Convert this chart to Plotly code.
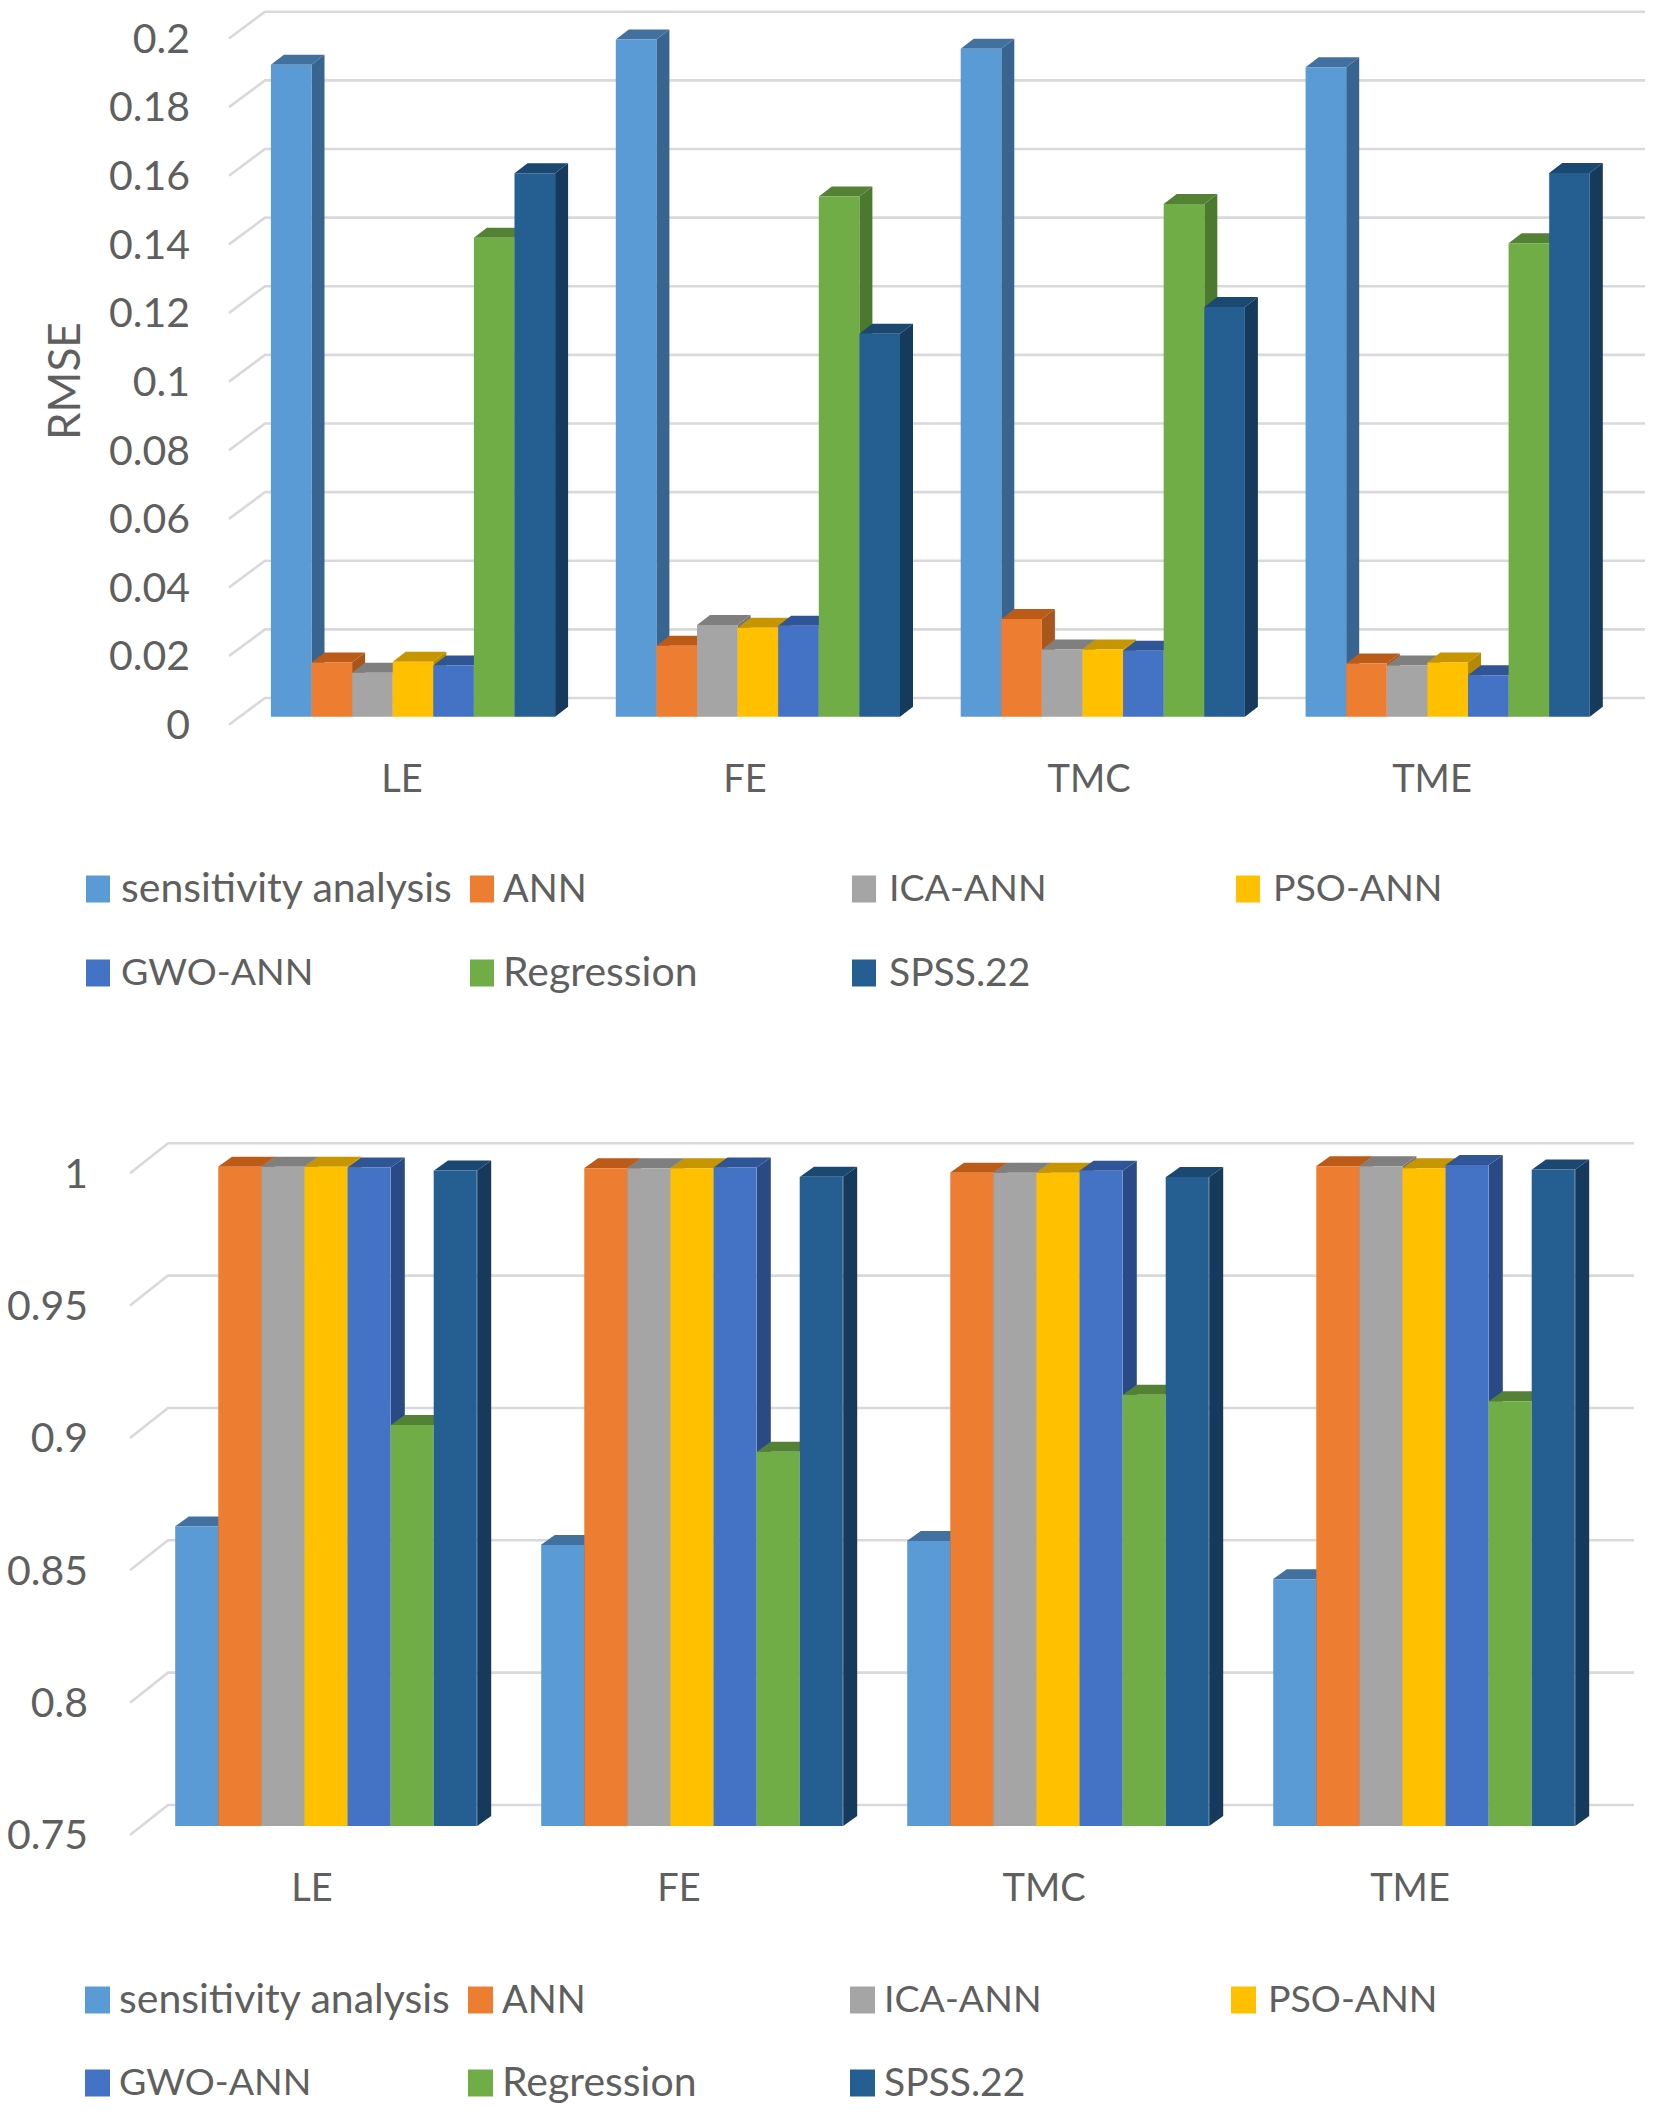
import plotly.graph_objects as go

categories = ["LE", "FE", "TMC", "TME"]
series_names = ["sensitivity analysis", "ANN", "ICA-ANN", "PSO-ANN", "GWO-ANN", "Regression", "SPSS.22"]

rmse_sensitivity = [0.1900, 0.1974, 0.1947, 0.1893]
rmse_ann = [0.0158, 0.0207, 0.0285, 0.0155]
rmse_ica = [0.0128, 0.0267, 0.0196, 0.0149]
rmse_pso = [0.0160, 0.0259, 0.0196, 0.0158]
rmse_gwo = [0.0149, 0.0265, 0.0192, 0.0121]
rmse_regression = [0.1396, 0.1516, 0.1494, 0.1380]
rmse_spss = [0.1584, 0.1116, 0.1194, 0.1585]

r2_sensitivity = [0.8631, 0.8562, 0.8577, 0.8432]
r2_ann = [0.9991, 0.9985, 0.9968, 0.9992]
r2_ica = [0.9991, 0.9985, 0.9968, 0.9992]
r2_pso = [0.9991, 0.9985, 0.9968, 0.9985]
r2_gwo = [0.9988, 0.9988, 0.9975, 0.9997]
r2_regression = [0.9015, 0.8914, 0.9129, 0.9105]
r2_spss = [0.9976, 0.9953, 0.9952, 0.9980]

rmse_ticks = [0, 0.02, 0.04, 0.06, 0.08, 0.1, 0.12, 0.14, 0.16, 0.18, 0.2]
rmse_tick_text = ["0", "0.02", "0.04", "0.06", "0.08", "0.1", "0.12", "0.14", "0.16", "0.18", "0.2"]
r2_ticks = [0.75, 0.8, 0.85, 0.9, 0.95, 1]
r2_tick_text = ["0.75", "0.8", "0.85", "0.9", "0.95", "1"]

front_colors = ["#5B9BD5", "#ED7D31", "#A5A5A5", "#FFC000", "#4472C4", "#70AD47", "#255E91"]
side_colors = ["#38658F", "#A9561C", "#757575", "#B58A00", "#2A4A85", "#4B7A2E", "#163A5C"]
top_colors = ["#42719F", "#BC5A17", "#7F7F7F", "#C69500", "#2F5597", "#548235", "#1B4870"]
legend_font_sizes = [41, 38, 37.5, 37.5, 37.5, 41, 39]

W, H = 1654, 2114
TEXT = "#5F5F5F"
FONT = "Lato"
FS = 41

fig = go.Figure()


def panel(values, ticks, tick_text, xa, ya, g):
    """g holds the panel's pixel geometry; everything is converted to axis units."""
    to_x = lambda px: (px - g["x0_px"]) / g["step_px"]
    to_y = lambda py: g["base"] + (g["base_py"] - py) / g["py_per_unit"]
    bw = g["bar_px"] / g["step_px"]
    dx = g["dx_px"] / g["step_px"]
    dy = g["dy_px"] / g["py_per_unit"]
    n = len(values)
    group = bw * n
    off_front = g["front_off"] / g["py_per_unit"]
    off_wall = g["wall_off"] / g["py_per_unit"]

    # skewed gridlines (short floor tick + back wall)
    gx, gy = [], []
    for t in ticks:
        gx += [to_x(g["tick_px"]), to_x(g["wall_px"]), to_x(g["right_px"]), None]
        gy += [t - off_front, t + off_wall, t + off_wall, None]
    fig.add_trace(go.Scatter(x=gx, y=gy, mode="lines", line=dict(color="#D9D9DD", width=2.6),
                             hoverinfo="skip", showlegend=False, xaxis=xa, yaxis=ya, zorder=0))

    for s, (name, vals) in enumerate(zip(series_names, values)):
        sx, sy, tx, ty = [], [], [], []
        for i, v in enumerate(vals):
            xl = i - group / 2 + s * bw
            xr = xl + bw
            sx += [xr, xr + dx, xr + dx, xr, None]
            sy += [g["base"], g["base"] + dy, v + dy, v, None]
            tx += [xl, xl + dx, xr + dx, xr, None]
            ty += [v, v + dy, v + dy, v, None]
        fig.add_trace(go.Scatter(x=sx, y=sy, mode="lines", fill="toself", fillcolor=side_colors[s],
                                 line=dict(width=0), hoverinfo="skip", showlegend=False,
                                 xaxis=xa, yaxis=ya, zorder=3 * s + 1))
        fig.add_trace(go.Scatter(x=tx, y=ty, mode="lines", fill="toself", fillcolor=top_colors[s],
                                 line=dict(width=0), hoverinfo="skip", showlegend=False,
                                 xaxis=xa, yaxis=ya, zorder=3 * s + 2))
        fig.add_trace(go.Bar(x=list(range(len(categories))), y=[v - g["base"] for v in vals],
                             base=g["base"], name=name, marker=dict(color=front_colors[s], line=dict(width=0)),
                             showlegend=False, xaxis=xa, yaxis=ya, zorder=3 * s + 3,
                             customdata=vals, hovertemplate=name + ": %{customdata}<extra></extra>"))

    xaxis = dict(domain=[g["left_px"] / W, g["right_dom"] / W],
                 range=[to_x(g["left_px"]), to_x(g["right_dom"])],
                 tickvals=[to_x(p) for p in g["label_px"]], ticktext=categories,
                 showgrid=False, zeroline=False, showline=False, ticks="",
                 tickfont=dict(family=FONT, size=38, color=TEXT), anchor=ya, fixedrange=True)
    yaxis = dict(domain=[1 - g["bottom_py"] / H, 1 - g["top_py"] / H],
                 range=[to_y(g["bottom_py"]), to_y(g["top_py"])],
                 tickvals=ticks, ticktext=tick_text, ticklabelshift=g["front_off"],
                 showgrid=False, zeroline=False, showline=False, ticks="",
                 tickfont=dict(family=FONT, size=FS, color=TEXT), anchor=xa, fixedrange=True)
    return xaxis, yaxis


def legend(swatch_x, text_x, rows, swatch):
    shapes, notes = [], []
    for s, name in enumerate(series_names):
        c, r = s % 4, s // 4
        x, y = swatch_x[c], rows[r]
        shapes.append(dict(type="rect", xref="paper", yref="paper",
                           x0=x / W, x1=(x + swatch[0]) / W,
                           y0=1 - (y + swatch[1] / 2) / H, y1=1 - (y - swatch[1] / 2) / H,
                           fillcolor=front_colors[s], line=dict(width=0)))
        notes.append(dict(text=name, xref="paper", yref="paper", x=text_x[c] / W, y=1 - (y - 2.5) / H,
                          xanchor="left", yanchor="middle", showarrow=False, xshift=-3,
                          font=dict(family=FONT, size=legend_font_sizes[s], color=TEXT)))
    return shapes, notes


geo1 = dict(x0_px=413, step_px=344.9, base=0, base_py=716.7, py_per_unit=3431, bar_px=40.6, dx_px=13, dy_px=10,
            front_off=8, wall_off=18.7, tick_px=229, wall_px=265, right_px=1645,
            left_px=191, right_dom=1654, top_py=0, bottom_py=753, label_px=[402, 745, 1089, 1432])
geo2 = dict(x0_px=326, step_px=366, base=0.75, base_py=1826, py_per_unit=2647, bar_px=43.2, dx_px=14, dy_px=10,
            front_off=9, wall_off=21, tick_px=130, wall_px=168, right_px=1634,
            left_px=89, right_dom=1654, top_py=1125, bottom_py=1862, label_px=[312, 679, 1044, 1410])

x1, y1 = panel([rmse_sensitivity, rmse_ann, rmse_ica, rmse_pso, rmse_gwo, rmse_regression, rmse_spss],
               rmse_ticks, rmse_tick_text, "x", "y", geo1)
x2, y2 = panel([r2_sensitivity, r2_ann, r2_ica, r2_pso, r2_gwo, r2_regression, r2_spss],
               r2_ticks, r2_tick_text, "x2", "y2", geo2)

s1, n1 = legend([86, 470, 852, 1236], [122, 504, 890, 1274], [889, 973], (24, 27))
s2, n2 = legend([85, 468, 850, 1231], [120, 503, 885, 1269], [2000, 2083], (25, 27))
rmse_title = dict(text="RMSE", xref="paper", yref="paper", x=63 / W, y=1 - 381 / H, textangle=-90,
                  showarrow=False, xanchor="center", yanchor="middle",
                  font=dict(family=FONT, size=44, color=TEXT))

fig.update_layout(width=W, height=H, margin=dict(l=0, r=0, t=0, b=0), autosize=False,
                  paper_bgcolor="white", plot_bgcolor="rgba(0,0,0,0)", barmode="group", bargap=0.176,
                  bargroupgap=0, xaxis=x1, yaxis=y1, xaxis2=x2, yaxis2=y2, shapes=s1 + s2,
                  annotations=n1 + n2 + [rmse_title], showlegend=False)

fig.write_html("out.html", post_script="document.body.style.margin='0';",
               config=dict(displayModeBar=False))
